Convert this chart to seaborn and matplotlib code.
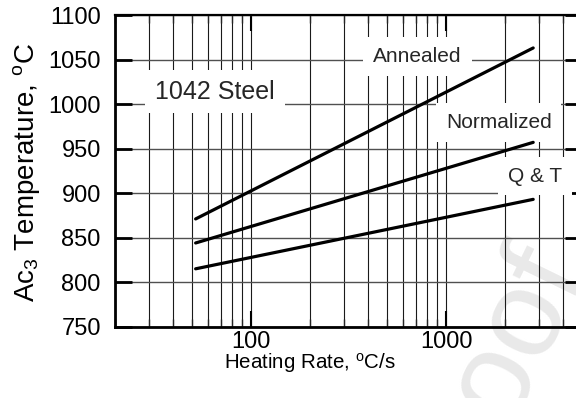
import numpy as np
import pandas as pd
import matplotlib
matplotlib.use('Agg')
import matplotlib.pyplot as plt
import matplotlib.ticker as mticker
import seaborn as sns

# ---- data ----
heating_rate = [52, 2800]              # degC/s
annealed = [871, 1063]
normalized = [844, 957]
quenched_tempered = [815, 893]
series_names = ['Annealed', 'Normalized', 'Q & T']
x_tick_values = [100, 1000]
x_tick_labels = ['100', '1000']
y_tick_values = [750, 800, 850, 900, 950, 1000, 1050, 1100]

df = pd.DataFrame({
    'rate': heating_rate * 3,
    'temp': annealed + normalized + quenched_tempered,
    'condition': [n for n in series_names for _ in heating_rate],
})

sns.set_style('white')
plt.rcParams['font.family'] = ['Liberation Sans', 'DejaVu Sans']
plt.rcParams['mathtext.fontset'] = 'custom'
plt.rcParams['mathtext.rm'] = 'Liberation Sans'
plt.rcParams['mathtext.it'] = 'Liberation Sans:italic'
plt.rcParams['mathtext.bf'] = 'Liberation Sans:bold'

W, H = 576, 398
fig = plt.figure(figsize=(W / 100, H / 100), dpi=100)
fig.patch.set_facecolor('white')
left, right, top, bottom = 114.7, 582.3, 15.0, 326.7
ax = fig.add_axes([left / W, 1 - bottom / H, (right - left) / W, (bottom - top) / H])
ax.set_facecolor('none')

# faint watermark behind everything (cut by the right/bottom edge as in the reference)
fig.text(488 / W, 1 - 384 / H, 'Proof', rotation=64, rotation_mode='anchor',
         ha='center', va='center', fontsize=90, color='#e9e9e9', zorder=-5)

for name in series_names:
    sub = df[df['condition'] == name]
    sns.lineplot(data=sub, x='rate', y='temp', ax=ax, color='black', lw=2.3,
                 zorder=5, legend=False)

ax.set_xscale('log')
ax.set_xlim(20, 5000)
ax.set_ylim(750, 1100)
ax.xaxis.set_major_locator(mticker.FixedLocator(x_tick_values))
ax.xaxis.set_major_formatter(mticker.FixedFormatter(x_tick_labels))
ax.xaxis.set_minor_locator(mticker.LogLocator(base=10, subs=np.arange(2, 10), numticks=20))
ax.xaxis.set_minor_formatter(mticker.NullFormatter())
ax.yaxis.set_major_locator(mticker.FixedLocator(y_tick_values))

ax.grid(True, which='both', axis='x', color='#1a1a1a', lw=0.8, zorder=0)
ax.grid(True, which='major', axis='y', color='#505050', lw=1.0, zorder=0)
ax.set_axisbelow(True)

for s in ['left', 'bottom', 'right']:
    ax.spines[s].set_linewidth(2.0)
    ax.spines[s].set_color('black')
ax.spines['top'].set_linewidth(1.6)
ax.spines['top'].set_color('black')

ax.tick_params(axis='x', which='major', direction='in', length=11.5, width=1.5,
               top=True, bottom=True, pad=3, labelsize=17, colors='black')
ax.tick_params(axis='x', which='minor', direction='in', length=5.5, width=1.0,
               top=True, bottom=True)
ax.tick_params(axis='y', which='major', direction='in', length=12, width=2.0,
               left=True, right=True, pad=10, labelsize=17, colors='black')

ax.set_xlabel(r'Heating Rate, $^{\mathrm{o}}$C/s', fontsize=14.8, color='black')
ax.xaxis.set_label_coords(0.4177, -0.118)
ax.xaxis.label.set_va('center')
ax.set_ylabel(r'Ac$_{\mathrm{3}}$ Temperature, $^{\mathrm{o}}$C', fontsize=20, color='black')
ax.yaxis.set_label_coords(-0.1876, 0.496)
ax.yaxis.label.set_va('center')

box = dict(facecolor='white', edgecolor='none', pad=7)
ax.text(65.4, 1014, '1042 Steel', fontsize=18, ha='center', va='center', bbox=box, zorder=3)
ax.text(714, 1053.6, series_names[0], fontsize=15, ha='center', va='center', bbox=box, zorder=3)
ax.text(1864, 979.3, series_names[1], fontsize=15, ha='center', va='center', bbox=box, zorder=3)
ax.text(2860, 919.2, series_names[2], fontsize=15, ha='center', va='center', bbox=box, zorder=3)

fig.savefig('out.png', dpi=100)
